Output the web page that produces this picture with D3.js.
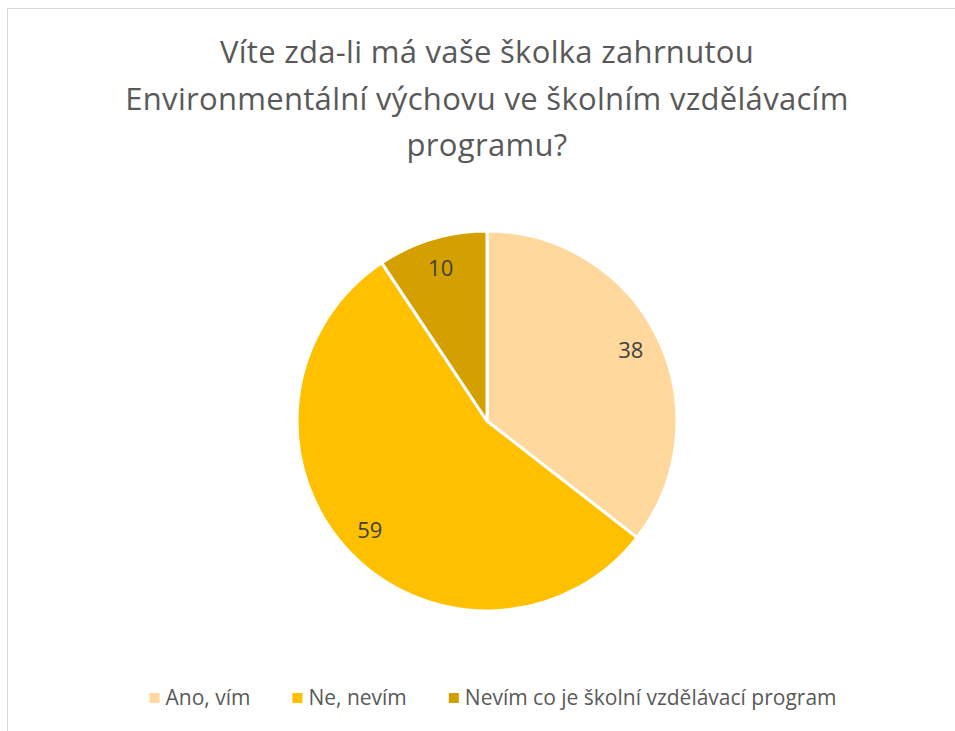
<!DOCTYPE html>
<html>
<head>
<meta charset="utf-8">
<script src="https://cdn.jsdelivr.net/npm/d3@7"></script>
<style>
  body { margin: 0; background: #fff; }
  svg { display: block; font-family: "Open Sans", sans-serif; }
</style>
</head>
<body>
<div id="chart"></div>
<script>
// data
const categories = ["Ano, vím", "Ne, nevím", "Nevím co je školní vzdělávací program"]
const values = [38, 59, 10]
const colors = ["#FFD89D", "#FFC000", "#D4A000"]
const titleLines = ["Víte zda-li má vaše školka zahrnutou", "Environmentální výchovu ve školním vzdělávacím", "programu?"]

const width = 955, height = 731
const cx = 487, cy = 421, radius = 190

const svg = d3.select("#chart").append("svg")
  .attr("width", width)
  .attr("height", height)

// chart border (runs off right/bottom)
svg.append("rect")
  .attr("x", 7.5).attr("y", 8.5)
  .attr("width", 1000).attr("height", 1000)
  .attr("fill", "none")
  .attr("stroke", "#d9d9d9")
  .attr("stroke-width", 1)

// title
svg.append("g").selectAll("text")
  .data(titleLines)
  .join("text")
  .attr("x", 487)
  .attr("y", (d, i) => 63 + i * 46.5)
  .attr("text-anchor", "middle")
  .attr("fill", "#595959")
  .style("font-size", "31px")
  .style("letter-spacing", "0.3px")
  .text(d => d)

// pie
const pie = d3.pie().sort(null).value(d => d)
const arcs = pie(values)
const arc = d3.arc().innerRadius(0).outerRadius(radius)
const labelArc = d3.arc().innerRadius(160).outerRadius(160)

const g = svg.append("g").attr("transform", `translate(${cx},${cy})`)

g.selectAll("path")
  .data(arcs)
  .join("path")
  .attr("d", arc)
  .attr("fill", (d, i) => colors[i])
  .attr("stroke", "#fff")
  .attr("stroke-width", 3)
  .attr("stroke-linejoin", "round")

g.selectAll("text")
  .data(arcs)
  .join("text")
  .attr("transform", d => `translate(${labelArc.centroid(d)})`)
  .attr("text-anchor", "middle")
  .attr("dy", "0.35em")
  .attr("fill", "#404040")
  .style("font-size", "22px")
  .text(d => d.data)

// legend
const legend = svg.append("g")
const items = legend.selectAll("g")
  .data(categories)
  .join("g")
items.append("rect")
  .attr("width", 10).attr("height", 10)
  .attr("y", 693)
  .attr("fill", (d, i) => colors[i])
items.append("text")
  .attr("x", 16)
  .attr("y", 705)
  .attr("fill", "#595959")
  .style("font-size", "21px")
  .text(d => d)

let xpos = 0
const gap = 42
items.each(function () {
  const w = d3.select(this).select("text").node().getComputedTextLength()
  this.__x = xpos
  xpos += 16 + w + gap
})
const total = xpos - gap
const startX = 493 - total / 2
items.attr("transform", function () { return `translate(${startX + this.__x},0)` })
</script>
</body>
</html>
